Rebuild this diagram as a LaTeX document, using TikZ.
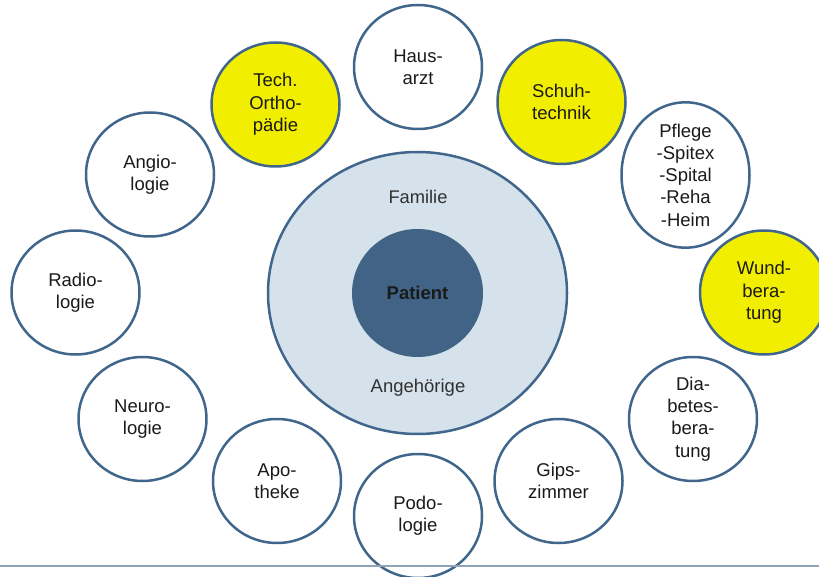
\documentclass[tikz,border=0pt]{standalone}
\usepackage{fontspec}
\setmainfont{Liberation Sans}
\usepackage{xcolor}
\usetikzlibrary{shapes}

\definecolor{rand}{HTML}{41668C}
\definecolor{kern}{HTML}{416486}
\definecolor{umfeld}{HTML}{D5E1EB}
\definecolor{gelbfill}{HTML}{F2EE00}
\definecolor{schrift}{HTML}{1A1A1A}
\definecolor{linie}{HTML}{8FA4BA}

\tikzset{
  fach/.style={ellipse, draw=rand, line width=2.5pt, fill=white,
    minimum width=128pt, minimum height=124pt, inner sep=0pt,
    align=center, text=schrift, font=\fontsize{18.5}{22.3}\selectfont},
  gelb/.style={fach, fill=gelbfill}
}

\begin{document}
\begin{tikzpicture}[x=1pt, y=-1pt]
        \useasboundingbox (0,0) rectangle (819,577);
        % Familie und Patient in der Mitte
        \node[ellipse, draw=rand, line width=2.5pt, fill=umfeld, minimum width=299pt,
              minimum height=282pt] (familie) at (417.5,293) {};
        \node[ellipse, fill=kern, minimum width=131pt, minimum height=128pt,
              font=\fontsize{18.5}{22}\selectfont\bfseries, text=schrift] (patient) at (417.5,293) {Patient};
        \node[font=\fontsize{18.3}{22}\selectfont, text=schrift!90] (fam) at (418,197) {Familie};
        \node[font=\fontsize{18.5}{22}\selectfont, text=schrift!90] (ang) at (418,388) {Angehörige};
        % Fachbereiche rundherum
        \node[fach] (hausarzt) at (418,67) {Haus-\\arzt};
        \node[gelb] (ortho) at (275.5,104.5) {Tech.\\Ortho-\\pädie};
        \node[gelb] (schuh) at (561.5,102) {Schuh-\\technik};
        \node[fach] (angio) at (150,174.5) {Angio-\\logie};
        \node[fach] (pflege) at (685.5,175) {Pflege\\-Spitex\\-Spital\\-Reha\\-Heim};
        \node[fach] (radio) at (75.5,292.5) {Radio-\\logie};
        \node[gelb] (wund) at (764,292.5) {Wund-\\bera-\\tung};
        \node[fach] (neuro) at (142.5,419) {Neuro-\\logie};
        \node[fach] (diabetes) at (693,419) {Dia-\\betes-\\bera-\\tung};
        \node[fach] (apotheke) at (277,481) {Apo-\\theke};
        \node[fach] (gips) at (558.5,481) {Gips-\\zimmer};
        \node[fach] (podo) at (418,516) {Podo-\\logie};
        % Linie unten
        \coordinate (links) at (0,566);
        \coordinate (rechts) at (819,566);
        \draw[linie, line width=1.5pt] (links) -- (rechts);
\end{tikzpicture}
\end{document}
